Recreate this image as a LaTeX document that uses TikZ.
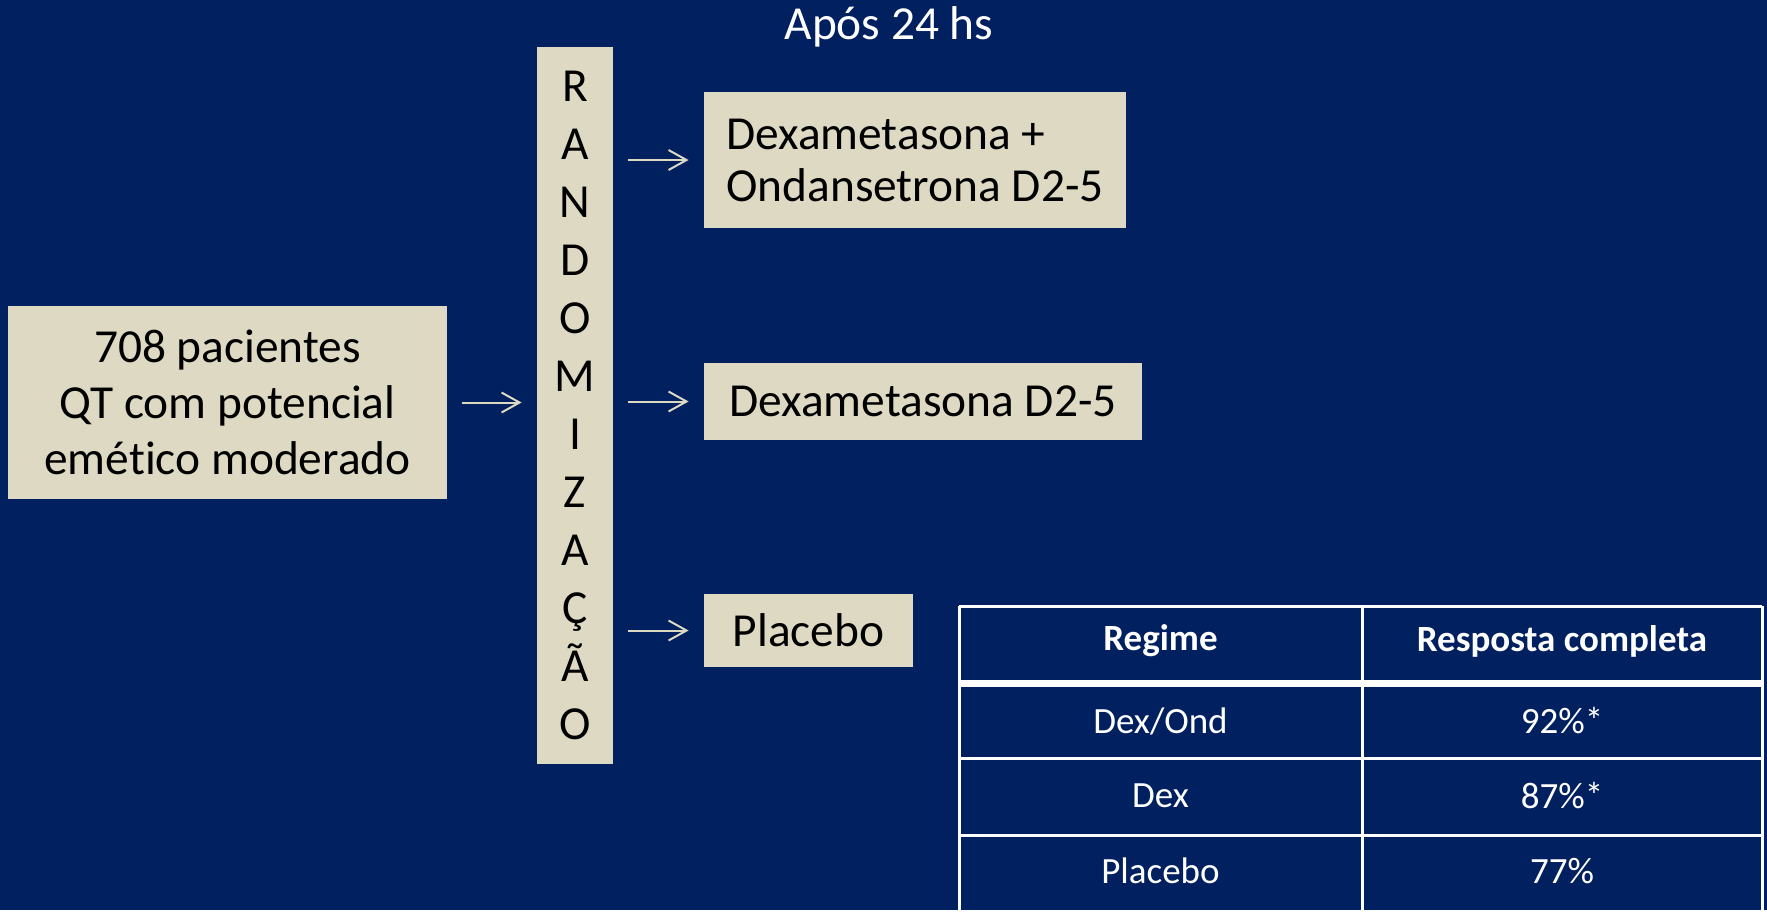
\documentclass[tikz,border=0pt]{standalone}
\usepackage{fontspec}
\setmainfont{Carlito}[Ligatures=NoCommon]
\usetikzlibrary{arrows.meta}
\definecolor{navy}{HTML}{002060}
\definecolor{bege}{HTML}{DDD9C3}

\begin{document}
\begin{tikzpicture}[x=0.5pt,y=-0.5pt,
		caixa/.style={fill=bege, text=black, inner sep=0pt, font=\fontsize{23.7}{28}\selectfont},
		seta/.style={draw=bege, line width=1pt, -{Straight Barb[length=9pt,width=10pt]}, shorten <=7.5pt, shorten >=7.5pt},
		tab/.style={draw=white, line width=1.5pt},
		celula/.style={text=white, font=\fontsize{18.5}{22}\selectfont}]
			\fill[navy] (0,0) rectangle (1767,910);
			\node[text=white, font=\fontsize{23.7}{28}\selectfont] (titulo) at (889,27) {Após 24 hs};
			\node[caixa, minimum width=219.5pt, minimum height=96.5pt, align=center] (pac) at (227.5,402.5) {708 pacientes\\QT com potencial\\emético moderado};
			\node[caixa, minimum width=38pt, minimum height=358.5pt, align=center, font=\fontsize{23.7}{29}\selectfont] (rand) at (575,405.5) {R\\A\\N\\D\\O\\M\\I\\Z\\A\\Ç\\Ã\\O};
			\node[caixa, minimum width=211pt, minimum height=68pt, align=left, font=\fontsize{23.7}{26}\selectfont] (dexond) at (915,160) {Dexametasona +\\Ondansetrona D2-5};
			\node[caixa, minimum width=219pt, minimum height=38.5pt] (dex) at (923,401.5) {Dexametasona D2-5};
			\node[caixa, minimum width=104.5pt, minimum height=36.5pt] (plac) at (808.5,630.5) {Placebo};
			\draw[seta] (pac.east) -- (pac.east -| rand.west);
			\draw[seta] (rand.east |- dexond.west) -- (dexond.west);
			\draw[seta] (rand.east |- dex.west) -- (dex.west);
			\draw[seta] (rand.east |- plac.west) -- (plac.west);
			% tabela
			\draw[tab] (959,606) -- (1762,606);
			\draw[white, line width=3.5pt] (959,683) -- (1762,683);
			\draw[tab] (959,758) -- (1762,758);
			\draw[tab] (959,835) -- (1762,835);
			\draw[tab] (959,606) -- (959,910);
			\draw[tab] (1362,606) -- (1362,910);
			\draw[tab] (1762,606) -- (1762,910);
			\node[celula, font=\fontsize{18.5}{22}\selectfont\bfseries] (regime) at (1160.5,641) {Regime};
			\node[celula, font=\fontsize{18.5}{22}\selectfont\bfseries] (resposta) at (1562,641) {Resposta completa};
			\node[celula] (r1a) at (1160.5,721) {Dex/Ond};
			\node[celula] (r1b) at (1562,721) {92\%*};
			\node[celula] (r2a) at (1160.5,796) {Dex};
			\node[celula] (r2b) at (1562,796) {87\%*};
			\node[celula] (r3a) at (1160.5,871) {Placebo};
			\node[celula] (r3b) at (1562,871) {77\%};
		\end{tikzpicture}
\end{document}
